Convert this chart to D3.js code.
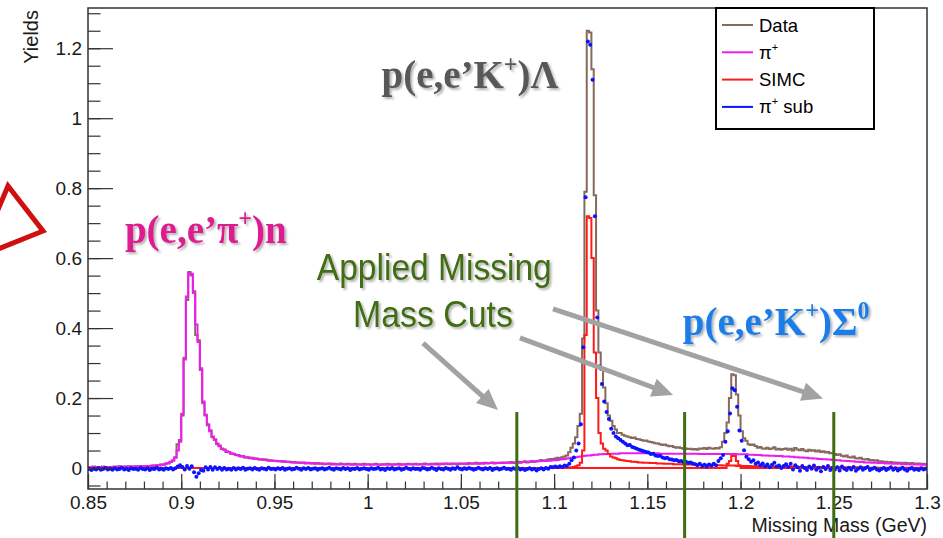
<!DOCTYPE html>
<html><head><meta charset="utf-8">
<script src="https://cdn.jsdelivr.net/npm/d3@7"></script>
<style>
html,body{margin:0;padding:0;background:#fff;}
svg{display:block;font-family:"Liberation Sans",Arial,sans-serif;}
</style></head><body>
<svg id="chart" width="943" height="538"></svg>
<script>
// Missing-mass spectrum: 360 bins of 1.25 MeV between 0.85 and 1.30 GeV
const massMin = 0.85, massMax = 1.30, binWidth = 0.00125;

const xTicks = [0.85, 0.9, 0.95, 1.0, 1.05, 1.1, 1.15, 1.2, 1.25, 1.3];
const xTickLabels = ["0.85", "0.9", "0.95", "1", "1.05", "1.1", "1.15", "1.2", "1.25", "1.3"];
const yTicks = [0, 0.2, 0.4, 0.6, 0.8, 1.0, 1.2];
const yTickLabels = ["0", "0.2", "0.4", "0.6", "0.8", "1", "1.2"];

// Data (all events)
const dataYield = [
0.003,0.002,0.004,0.002,0.003,0.001,0.004,0.002,0.003,0.003,0.002,0.004,0.002,0.005,0.003,0.004,0.003,0.005,0.004,0.003,
0.005,0.003,0.006,0.004,0.004,0.006,0.005,0.007,0.006,0.008,0.007,0.010,0.009,0.013,0.013,0.018,0.021,0.030,0.068,0.080,
0.150,0.315,0.480,0.560,0.550,0.505,0.380,0.365,0.285,0.185,0.152,0.122,0.108,0.088,0.082,0.068,0.064,0.054,0.053,0.046,
0.046,0.041,0.041,0.037,0.037,0.033,0.034,0.030,0.031,0.028,0.029,0.026,0.027,0.024,0.025,0.023,0.024,0.021,0.022,0.020,
0.021,0.019,0.020,0.018,0.019,0.017,0.018,0.016,0.017,0.015,0.016,0.014,0.016,0.013,0.015,0.013,0.014,0.012,0.014,0.012,
0.013,0.011,0.012,0.013,0.010,0.012,0.011,0.010,0.013,0.011,0.010,0.012,0.011,0.009,0.012,0.010,0.011,0.009,0.012,0.010,
0.011,0.009,0.010,0.012,0.010,0.009,0.011,0.010,0.012,0.010,0.009,0.011,0.010,0.012,0.009,0.011,0.010,0.012,0.011,0.010,
0.012,0.010,0.011,0.010,0.013,0.011,0.010,0.012,0.011,0.013,0.010,0.012,0.011,0.013,0.012,0.011,0.013,0.012,0.011,0.013,
0.012,0.013,0.011,0.014,0.012,0.013,0.015,0.012,0.014,0.013,0.015,0.013,0.014,0.016,0.013,0.015,0.014,0.016,0.014,0.016,
0.015,0.017,0.014,0.016,0.018,0.015,0.017,0.019,0.016,0.018,0.020,0.017,0.019,0.021,0.023,0.020,0.022,0.024,0.026,0.025,
0.027,0.029,0.028,0.031,0.033,0.036,0.045,0.058,0.070,0.088,0.120,0.155,0.370,0.790,1.250,1.245,1.140,0.780,0.450,0.330,
0.280,0.230,0.185,0.150,0.135,0.120,0.110,0.100,0.100,0.095,0.092,0.090,0.088,0.086,0.087,0.083,0.082,0.080,0.078,0.079,
0.076,0.074,0.073,0.071,0.070,0.068,0.066,0.067,0.064,0.062,0.063,0.060,0.058,0.059,0.057,0.055,0.056,0.054,0.055,0.053,
0.054,0.052,0.056,0.055,0.057,0.054,0.058,0.056,0.055,0.057,0.056,0.059,0.075,0.100,0.130,0.200,0.268,0.265,0.210,0.150,
0.105,0.085,0.078,0.068,0.066,0.067,0.063,0.058,0.060,0.056,0.055,0.058,0.054,0.056,0.059,0.053,0.055,0.052,0.054,0.056,
0.052,0.055,0.050,0.057,0.053,0.051,0.054,0.050,0.048,0.052,0.049,0.051,0.047,0.050,0.046,0.048,0.044,0.046,0.042,0.043,
0.040,0.037,0.039,0.035,0.033,0.036,0.031,0.030,0.033,0.028,0.027,0.029,0.025,0.024,0.026,0.022,0.023,0.021,0.022,0.019,
0.019,0.017,0.018,0.016,0.017,0.015,0.016,0.014,0.015,0.013,0.015,0.014,0.012,0.014,0.013,0.012,0.013,0.011,0.012,0.011
];

// Scaled pi+ background
const pionYield = [
0.002,0.003,0.002,0.003,0.002,0.002,0.003,0.003,0.002,0.003,0.003,0.002,0.003,0.004,0.003,0.003,0.004,0.003,0.004,0.004,
0.004,0.004,0.005,0.004,0.005,0.005,0.006,0.006,0.007,0.007,0.008,0.009,0.010,0.012,0.014,0.017,0.022,0.030,0.050,0.075,
0.155,0.310,0.490,0.557,0.555,0.500,0.410,0.360,0.280,0.190,0.150,0.125,0.105,0.090,0.080,0.070,0.062,0.056,0.052,0.048,
0.045,0.042,0.040,0.038,0.036,0.034,0.033,0.031,0.030,0.029,0.028,0.027,0.026,0.025,0.024,0.024,0.023,0.022,0.021,0.021,
0.020,0.020,0.019,0.019,0.018,0.018,0.017,0.017,0.016,0.016,0.015,0.015,0.015,0.014,0.014,0.014,0.013,0.013,0.013,0.013,
0.012,0.012,0.012,0.012,0.012,0.011,0.011,0.011,0.011,0.011,0.011,0.011,0.011,0.010,0.010,0.010,0.010,0.010,0.010,0.010,
0.010,0.010,0.010,0.010,0.010,0.010,0.010,0.010,0.010,0.011,0.010,0.010,0.010,0.010,0.010,0.010,0.011,0.011,0.011,0.011,
0.011,0.011,0.011,0.011,0.011,0.011,0.011,0.011,0.011,0.011,0.011,0.012,0.012,0.012,0.012,0.012,0.012,0.012,0.012,0.012,
0.012,0.012,0.012,0.013,0.013,0.013,0.013,0.013,0.013,0.013,0.014,0.014,0.014,0.014,0.014,0.014,0.014,0.014,0.015,0.015,
0.015,0.015,0.015,0.016,0.016,0.016,0.017,0.017,0.017,0.018,0.018,0.018,0.019,0.019,0.020,0.020,0.020,0.021,0.021,0.022,
0.022,0.023,0.024,0.025,0.026,0.027,0.028,0.029,0.030,0.031,0.032,0.033,0.034,0.035,0.036,0.036,0.037,0.038,0.038,0.039,
0.039,0.040,0.040,0.040,0.041,0.041,0.041,0.041,0.042,0.042,0.042,0.042,0.042,0.042,0.042,0.042,0.042,0.042,0.042,0.042,
0.042,0.042,0.042,0.042,0.042,0.041,0.041,0.041,0.041,0.041,0.041,0.041,0.041,0.041,0.041,0.041,0.041,0.041,0.041,0.041,
0.041,0.041,0.040,0.040,0.040,0.040,0.040,0.040,0.040,0.040,0.040,0.040,0.040,0.040,0.040,0.040,0.040,0.040,0.039,0.039,
0.039,0.039,0.039,0.038,0.038,0.038,0.037,0.037,0.037,0.036,0.036,0.036,0.035,0.035,0.035,0.034,0.034,0.034,0.033,0.033,
0.033,0.032,0.032,0.031,0.031,0.030,0.030,0.029,0.029,0.028,0.028,0.027,0.027,0.026,0.026,0.025,0.025,0.024,0.024,0.023,
0.023,0.022,0.022,0.021,0.021,0.020,0.020,0.019,0.019,0.018,0.018,0.017,0.017,0.016,0.016,0.016,0.015,0.015,0.015,0.014,
0.014,0.014,0.013,0.013,0.013,0.012,0.012,0.012,0.012,0.011,0.011,0.011,0.011,0.010,0.010,0.010,0.010,0.010,0.009,0.009
];

// SIMC Lambda simulation
const simcLambda = [
0,0,0,0,0,0,0,0,0,0,0,0,0,0,0,0,0,0,0,0,
0,0,0,0,0,0,0,0,0,0,0,0,0,0,0,0,0,0,0,0,
0,0,0,0,0,0,0,0,0,0,0,0,0,0,0,0,0,0,0,0,
0,0,0,0,0,0,0,0,0,0,0,0,0,0,0,0,0,0,0,0,
0,0,0,0,0,0,0,0,0,0,0,0,0,0,0,0,0,0,0,0,
0,0,0,0,0,0,0,0,0,0,0,0,0,0,0,0,0,0,0,0,
0,0,0,0,0,0,0,0,0,0,0,0,0,0,0,0,0,0,0,0,
0,0,0,0,0,0,0,0,0,0,0,0,0,0,0,0,0,0,0,0,
0,0,0,0,0,0,0,0,0,0,0,0,0,0,0,0,0,0,0,0,
0,0,0,0,0,0,0,0,0,0,0,0,0,0,0,0,0,0,0,0,
0,0,0,0,0,0,0.001,0.002,0.003,0.005,0.008,0.015,0.050,0.380,0.720,0.715,0.600,0.330,0.200,0.100,
0.070,0.055,0.050,0.040,0.033,0.030,0.028,0.025,0.023,0.022,0.021,0.020,0.019,0.018,0.018,0.017,0.016,0.016,0.015,0.015,
0.015,0.014,0.014,0.014,0.013,0.013,0.013,0.012,0.012,0.012,0.012,0.011,0.011,0.011,0.011,0.010,0.010,0.010,0.010,0.010,
0.010,0.009,0.009,0.009,0.009,0.009,0.008,0.008,0.008,0.008,0.008,0.008,0.007,0.007,0.007,0.007,0.007,0.007,0.006,0.006,
0.006,0.006,0.006,0.006,0.005,0.005,0.005,0.005,0.005,0.005,0.005,0.004,0.004,0.004,0.004,0.004,0.004,0.004,0.004,0.004,
0.004,0.004,0.004,0.003,0.003,0.003,0.003,0.003,0.003,0.003,0.003,0.003,0.003,0.003,0.003,0.002,0.002,0.002,0.002,0.002,
0.002,0.002,0.002,0.002,0.002,0.002,0.002,0.002,0.002,0.002,0.002,0.002,0.002,0.002,0.001,0.001,0.001,0.001,0.001,0.001,
0.001,0.001,0.001,0.001,0.001,0.001,0.001,0.001,0.001,0.001,0.001,0.001,0.001,0.001,0.001,0.001,0.001,0.001,0.001,0.001
];

// SIMC Sigma0 simulation
const simcSigma = [
0,0,0,0,0,0,0,0,0,0,0,0,0,0,0,0,0,0,0,0,
0,0,0,0,0,0,0,0,0,0,0,0,0,0,0,0,0,0,0,0,
0,0,0,0,0,0,0,0,0,0,0,0,0,0,0,0,0,0,0,0,
0,0,0,0,0,0,0,0,0,0,0,0,0,0,0,0,0,0,0,0,
0,0,0,0,0,0,0,0,0,0,0,0,0,0,0,0,0,0,0,0,
0,0,0,0,0,0,0,0,0,0,0,0,0,0,0,0,0,0,0,0,
0,0,0,0,0,0,0,0,0,0,0,0,0,0,0,0,0,0,0,0,
0,0,0,0,0,0,0,0,0,0,0,0,0,0,0,0,0,0,0,0,
0,0,0,0,0,0,0,0,0,0,0,0,0,0,0,0,0,0,0,0,
0,0,0,0,0,0,0,0,0,0,0,0,0,0,0,0,0,0,0,0,
0,0,0,0,0,0,0,0,0,0,0,0,0,0,0,0,0,0,0,0,
0,0,0,0,0,0,0,0,0,0,0,0,0,0,0,0,0,0,0,0,
0,0,0,0,0,0,0,0,0,0,0,0,0,0,0,0,0,0,0,0,
0,0,0,0,0,0,0,0,0,0,0,0,0,0,0.012,0.020,0.034,0.034,0.020,0.008,
0,0,0,0,0,0,0,0,0,0,0,0,0,0,0,0,0,0,0,0,
0,0,0,0,0,0,0,0,0,0,0,0,0,0,0,0,0,0,0,0,
0,0,0,0,0,0,0,0,0,0,0,0,0,0,0,0,0,0,0,0,
0,0,0,0,0,0,0,0,0,0,0,0,0,0,0,0,0,0,0,0
];

// Data after pi+ subtraction
const pionSubYield = [
-0.003,-0.006,-0.002,-0.004,-0.001,-0.005,-0.003,0.000,-0.004,-0.002,-0.005,-0.001,-0.004,-0.003,0.001,-0.004,-0.002,-0.006,-0.001,-0.003,
-0.002,-0.005,0.000,-0.003,-0.004,-0.001,-0.006,-0.002,-0.003,0.001,-0.004,-0.002,-0.005,-0.001,-0.003,0.000,-0.004,-0.001,0.004,0.008,
0.003,-0.004,0.006,-0.002,0.005,-0.012,-0.025,-0.015,-0.006,-0.008,0.002,-0.004,0.003,-0.005,0.002,-0.003,0.001,-0.005,0.000,-0.004,
-0.002,-0.005,0.000,-0.004,-0.001,-0.003,0.001,-0.005,-0.002,-0.001,-0.004,0.000,-0.003,-0.005,-0.001,-0.002,-0.004,0.001,-0.003,-0.002,
-0.004,-0.001,-0.003,0.000,-0.005,-0.002,-0.001,-0.004,-0.003,0.001,-0.002,-0.005,-0.001,-0.003,0.000,-0.004,-0.002,-0.001,-0.005,-0.002,
-0.001,-0.004,-0.002,0.001,-0.003,-0.005,-0.001,-0.002,-0.004,0.000,-0.003,-0.001,-0.006,-0.002,-0.003,0.000,-0.004,-0.002,-0.001,-0.003,
-0.005,-0.001,-0.003,-0.002,0.001,-0.004,-0.002,-0.006,-0.001,-0.003,0.000,-0.004,-0.002,-0.001,-0.005,-0.003,0.001,-0.002,-0.004,-0.001,
-0.003,-0.002,-0.005,0.000,-0.001,-0.004,-0.003,0.001,-0.002,-0.006,-0.001,-0.003,-0.004,0.000,-0.002,-0.005,-0.001,-0.003,0.002,-0.002,
-0.004,-0.001,-0.003,0.000,-0.002,-0.005,-0.003,0.001,-0.002,-0.004,-0.001,-0.003,0.000,-0.006,-0.002,-0.001,-0.004,-0.002,0.001,-0.003,
-0.002,-0.005,-0.001,-0.003,0.000,-0.004,-0.002,-0.006,-0.003,-0.001,-0.004,-0.002,-0.007,-0.003,-0.001,-0.004,0.000,-0.002,0.003,0.002,
0.004,0.002,0.005,0.003,0.007,0.006,0.012,0.022,0.030,0.050,0.070,0.125,0.345,0.774,1.219,1.210,1.110,0.720,0.430,0.290,
0.240,0.190,0.160,0.140,0.112,0.100,0.090,0.085,0.080,0.075,0.070,0.065,0.066,0.060,0.058,0.055,0.052,0.050,0.048,0.046,
0.044,0.040,0.041,0.036,0.034,0.035,0.030,0.028,0.029,0.025,0.024,0.022,0.023,0.019,0.020,0.017,0.018,0.015,0.016,0.013,
0.011,0.008,0.012,0.006,0.009,0.004,0.010,0.007,0.012,0.008,0.020,0.028,0.037,0.075,0.105,0.156,0.228,0.222,0.175,0.107,
0.078,0.051,0.032,0.025,0.018,0.022,0.012,0.016,0.008,0.013,0.005,0.010,0.002,0.009,0.015,0.004,0.007,0.000,0.006,0.011,
0.003,0.012,-0.004,0.008,0.002,-0.008,0.006,0.000,-0.006,0.004,-0.002,0.007,-0.005,0.001,-0.009,0.003,-0.003,0.006,-0.006,0.000,
-0.004,0.002,-0.007,0.004,-0.002,-0.006,0.001,-0.004,0.003,-0.008,-0.002,0.002,-0.005,-0.001,0.003,-0.006,-0.002,0.001,-0.004,-0.007,
-0.003,0.000,-0.006,-0.002,0.002,-0.005,-0.001,-0.007,-0.003,0.001,-0.004,-0.008,-0.002,0.000,-0.005,-0.003,-0.006,-0.001,-0.004,-0.002
];

// Missing-mass cut positions (GeV)
const cutMasses = [1.08, 1.17, 1.25];

const colors = {data: "#86695d", pion: "#ee1cee", simc: "#ff1a1a", sub: "#0a14ff",
                cut: "#3f6d12", arrow: "#a2a2a2"};

const svg = d3.select("#chart");
const W = 943, H = 538;
const plot = {left: 88, right: 927, top: 8, bottom: 489};

const x = d3.scaleLinear().domain([massMin, massMax]).range([plot.left, plot.right]);
const y = d3.scaleLinear().domain([-0.06, 1.315]).range([plot.bottom, plot.top]);

const defs = svg.append("defs");
defs.append("clipPath").attr("id", "plotClip").append("rect")
  .attr("x", plot.left).attr("y", plot.top)
  .attr("width", plot.right - plot.left).attr("height", plot.bottom - plot.top);
const shadow = defs.append("filter").attr("id", "shadow")
  .attr("x", "-10%").attr("y", "-30%").attr("width", "125%").attr("height", "170%");
shadow.append("feDropShadow").attr("dx", 2).attr("dy", 2).attr("stdDeviation", 1.3)
  .attr("flood-color", "#000").attr("flood-opacity", 0.3);

svg.append("rect").attr("width", W).attr("height", H).attr("fill", "#fff");

// ---- histograms ----
const stepLine = d3.line().x(d => x(d[0])).y(d => y(d[1])).curve(d3.curveStepAfter);
function stepPoints(vals) {
  const pts = vals.map((v, i) => [massMin + i * binWidth, v]);
  pts.push([massMin + vals.length * binWidth, vals[vals.length - 1]]);
  return pts;
}
const hg = svg.append("g").attr("clip-path", "url(#plotClip)");
[[dataYield, colors.data, 2], [pionYield, colors.pion, 2],
 [simcLambda, colors.simc, 2], [simcSigma, colors.simc, 2]].forEach(([vals, c, w]) => {
  hg.append("path").attr("d", stepLine(stepPoints(vals)))
    .attr("fill", "none").attr("stroke", c).attr("stroke-width", w);
});
hg.selectAll("circle.sub").data(pionSubYield).join("circle")
  .attr("class", "sub")
  .attr("cx", (d, i) => x(massMin + (i + 0.5) * binWidth))
  .attr("cy", d => y(d))
  .attr("r", 2)
  .attr("fill", colors.sub);

// ---- frame and axes ----
const axisColor = "#333";
function styleAxis(g) {
  g.select(".domain").remove();
  g.selectAll(".tick line").attr("stroke", axisColor).attr("stroke-width", 1.2);
  g.selectAll(".tick text").attr("fill", "#1a1a1a")
    .style("font-family", '"Liberation Sans", Arial, sans-serif').style("font-size", "19px");
}
const xMinor = d3.range(0, 46).map(k => massMin + k * 0.01);
const yMinor = d3.range(-1, 27).map(k => k * 0.05);
svg.append("g").attr("transform", `translate(0,${plot.bottom})`)
  .call(d3.axisBottom(x).tickValues(xMinor).tickFormat("").tickSize(-7.5)).call(styleAxis);
svg.append("g").attr("transform", `translate(0,${plot.bottom})`)
  .call(d3.axisBottom(x).tickValues(xTicks).tickFormat((d, i) => xTickLabels[i]).tickSize(-15).tickPadding(7))
  .call(styleAxis);
svg.append("g").attr("transform", `translate(${plot.left},0)`)
  .call(d3.axisLeft(y).tickValues(yMinor).tickFormat("").tickSize(-12.5)).call(styleAxis);
svg.append("g").attr("transform", `translate(${plot.left},0)`)
  .call(d3.axisLeft(y).tickValues(yTicks).tickFormat((d, i) => yTickLabels[i]).tickSize(-25).tickPadding(6))
  .call(styleAxis);
svg.append("rect").attr("x", plot.left).attr("y", plot.top)
  .attr("width", plot.right - plot.left).attr("height", plot.bottom - plot.top)
  .attr("fill", "none").attr("stroke", axisColor).attr("stroke-width", 1.5);

svg.append("text").attr("x", plot.right).attr("y", 532).attr("text-anchor", "end")
  .attr("font-size", 19.5).attr("fill", "#1a1a1a").text("Missing Mass (GeV)");
svg.append("text").attr("transform", `translate(38,${plot.top + 2}) rotate(-90)`)
  .attr("text-anchor", "end").attr("font-size", 20).attr("fill", "#1a1a1a").text("Yields");

// ---- cut lines ----
svg.append("g").selectAll("line").data(cutMasses).join("line")
  .attr("x1", d => x(d)).attr("x2", d => x(d))
  .attr("y1", y(0.16)).attr("y2", H)
  .attr("stroke", colors.cut).attr("stroke-width", 3);

// ---- arrows from the cut label ----
const arrows = [
  {from: [1.0297, 0.357], to: [1.0699, 0.166]},
  {from: [1.0817, 0.372], to: [1.1638, 0.209]},
  {from: [1.0994, 0.455], to: [1.2442, 0.199]}
];
const ag = svg.append("g");
arrows.forEach(a => {
  const x1 = x(a.from[0]), y1 = y(a.from[1]), x2 = x(a.to[0]), y2 = y(a.to[1]);
  const len = Math.hypot(x2 - x1, y2 - y1), ux = (x2 - x1) / len, uy = (y2 - y1) / len;
  const L = 21, hw = 9.5, bx = x2 - ux * L, by = y2 - uy * L;
  ag.append("line").attr("x1", x1).attr("y1", y1).attr("x2", bx + ux * 2).attr("y2", by + uy * 2)
    .attr("stroke", colors.arrow).attr("stroke-width", 5);
  ag.append("polygon")
    .attr("points", [[x2, y2], [bx - uy * hw, by + ux * hw], [bx + uy * hw, by - ux * hw]].map(p => p.join(",")).join(" "))
    .attr("fill", colors.arrow);
});

// ---- reaction labels ----
function reactionLabel(parts, pos, color, size) {
  const t = svg.append("text").attr("x", x(pos[0])).attr("y", y(pos[1]))
    .attr("fill", color).attr("font-size", size).attr("font-weight", "bold")
    .style("font-family", '"Liberation Serif", "Times New Roman", serif')
    .attr("filter", "url(#shadow)");
  let raised = false;
  parts.forEach(p => {
    const s = t.append("tspan").text(p.text);
    if (p.sup) { s.attr("font-size", size * 0.62).attr("dy", -size * 0.4); raised = true; }
    else if (raised) { s.attr("dy", size * 0.4); raised = false; }
  });
}
reactionLabel([{text: "p(e,e\u2019K"}, {text: "+", sup: true}, {text: ")\u039B"}], [1.0074, 1.086], "#595959", 39);
reactionLabel([{text: "p(e,e\u2019\u03C0"}, {text: "+", sup: true}, {text: ")n"}], [0.8698, 0.643], "#dd1a8e", 39);
reactionLabel([{text: "p(e,e\u2019K"}, {text: "+", sup: true}, {text: ")\u03A3"}, {text: "0", sup: true}], [1.169, 0.380], "#1c7de8", 39);

const cutText = [
  {text: "Applied Missing", pos: [0.9727, 0.538], width: 235},
  {text: "Mass Cuts", pos: [0.9921, 0.404], width: 160}
];
svg.append("g").selectAll("text").data(cutText).join("text")
  .attr("x", d => x(d.pos[0])).attr("y", d => y(d.pos[1]))
  .attr("textLength", d => d.width).attr("lengthAdjust", "spacingAndGlyphs")
  .attr("font-size", 36).attr("fill", colors.cut).attr("filter", "url(#shadow)")
  .text(d => d.text);

// ---- legend ----
const legendItems = [
  {parts: [{text: "Data"}], color: colors.data},
  {parts: [{text: "\u03C0"}, {text: "+", sup: true}], color: colors.pion},
  {parts: [{text: "SIMC"}], color: colors.simc},
  {parts: [{text: "\u03C0"}, {text: "+", sup: true}, {text: " sub"}], color: colors.sub}
];
const lg = svg.append("g");
lg.append("rect").attr("x", 716).attr("y", plot.top).attr("width", 158).attr("height", 121)
  .attr("fill", "#fff").attr("stroke", "#000").attr("stroke-width", 2);
legendItems.forEach((it, i) => {
  const cy = 25 + i * 27.3;
  lg.append("line").attr("x1", 722).attr("x2", 753).attr("y1", cy).attr("y2", cy)
    .attr("stroke", it.color).attr("stroke-width", 2);
  const t = lg.append("text").attr("x", 759).attr("y", cy + 6.5).attr("font-size", 18.5).attr("fill", "#000");
  let raised = false;
  it.parts.forEach(p => {
    const s = t.append("tspan").text(p.text);
    if (p.sup) { s.attr("font-size", 11).attr("dy", -8); raised = true; }
    else if (raised) { s.attr("dy", 8); raised = false; }
  });
});

// ---- outline marker at the left margin ----
svg.append("path").attr("d", "M-22,257 L8,186 L43,231 Z")
  .attr("fill", "none").attr("stroke", "#d01010").attr("stroke-width", 5).attr("stroke-linejoin", "miter");
</script>
</body></html>
